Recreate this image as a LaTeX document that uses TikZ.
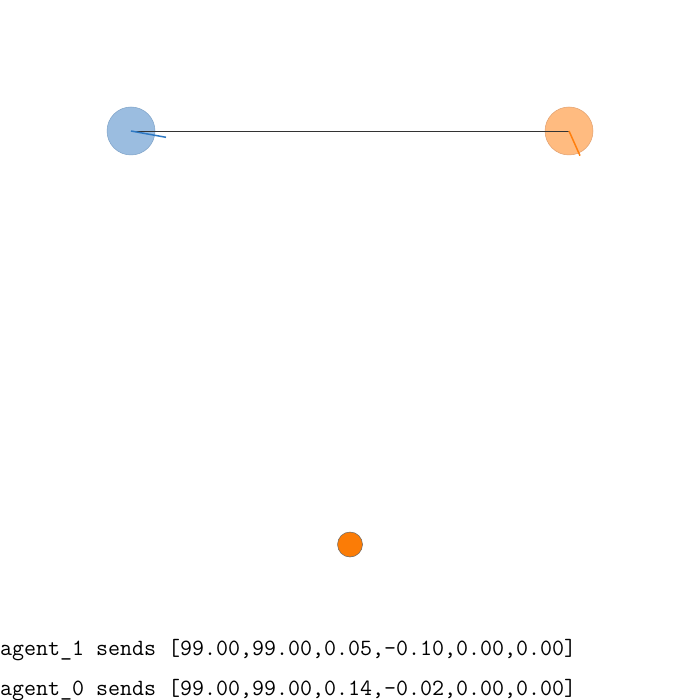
\documentclass[tikz,border=0pt]{standalone}
\definecolor{agentblue}{HTML}{9BBDE0}
\definecolor{agentblueedge}{HTML}{7FA3C8}
\definecolor{headblue}{HTML}{2E78C2}
\definecolor{agentorange}{HTML}{FFBB80}
\definecolor{agentorangeedge}{HTML}{E0A070}
\definecolor{headorange}{HTML}{FF7F0E}
\definecolor{landfill}{HTML}{FB7C06}
\tikzset{
  agent/.style={circle, minimum size=48pt, inner sep=0pt, line width=0.5pt},
  landmark/.style={circle, minimum size=25pt, inner sep=0pt, fill=landfill, draw=gray!80!black, line width=0.5pt},
  msg/.style={anchor=base west, inner sep=0pt, font=\ttfamily\fontsize{23.3}{26}\selectfont},
}
\begin{document}
\begin{tikzpicture}[x=1pt, y=-1pt]
\useasboundingbox[fill=white] (0,0) rectangle (700,700);
% agents and landmark
\node[agent, fill=agentblue, draw=agentblueedge] (agent0) at (131,131) {};
\node[agent, fill=agentorange, draw=agentorangeedge] (agent1) at (569,131) {};
\node[landmark] (land0) at (350,544.5) {};
% communication link
\draw[black!80, line width=0.6pt] (agent0.center) -- (agent1.center);
% headings
\coordinate (head0) at (166,137.3);
\coordinate (head1) at (580,155.7);
\draw[headblue, line width=1.5pt] (agent0.center) -- (head0);
\draw[headorange, line width=1.5pt] (agent1.center) -- (head1);
% messages
\node[msg] (msg1) at (0,655) {agent\_1 sends [99.00,99.00,0.05,-0.10,0.00,0.00]};
\node[msg] (msg0) at (0,695) {agent\_0 sends [99.00,99.00,0.14,-0.02,0.00,0.00]};
\end{tikzpicture}
\end{document}
